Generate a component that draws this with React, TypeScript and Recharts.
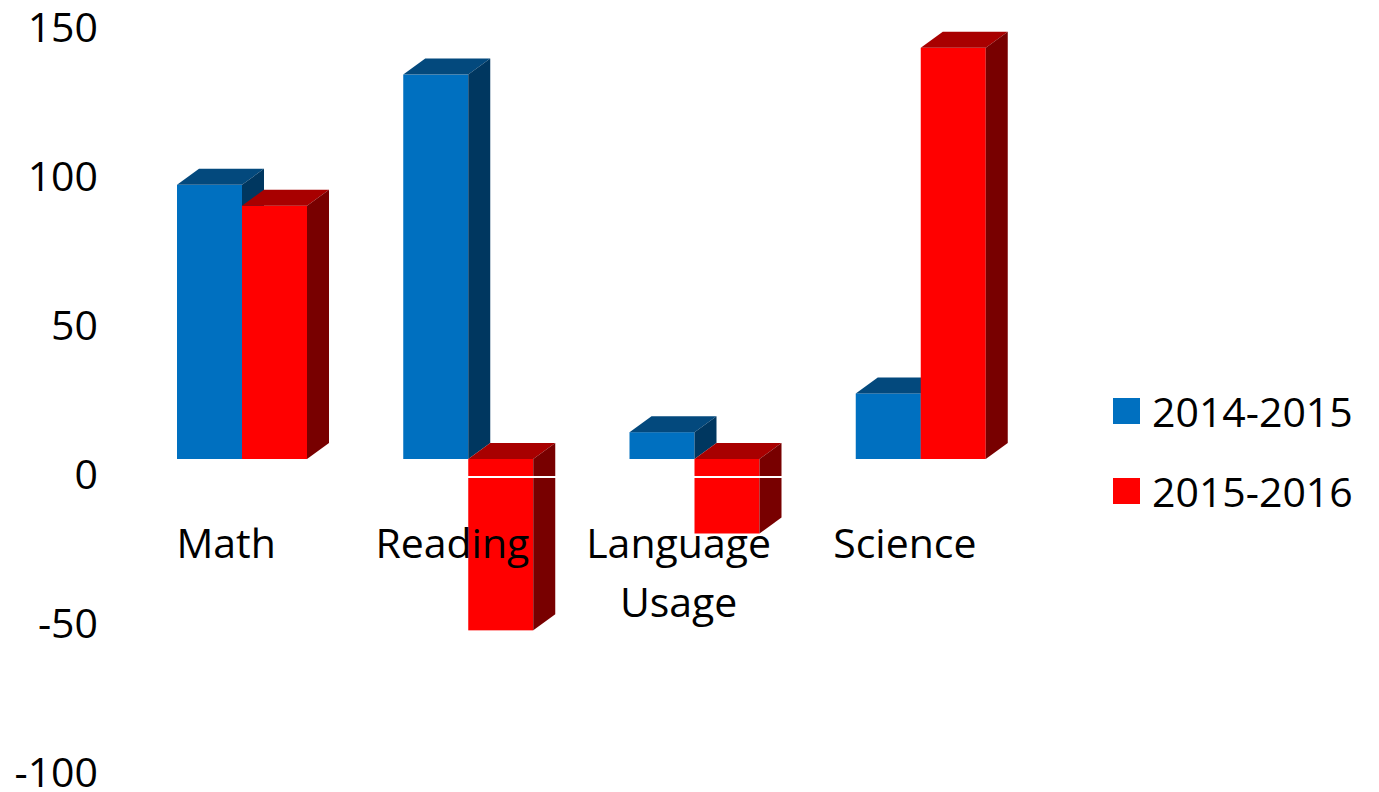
import React from "react";
import { BarChart, Bar, XAxis, YAxis, ReferenceLine, Legend } from "recharts";

const subjects = ["Math", "Reading", "Language Usage", "Science"];
const scores2014 = [92, 129, 9, 22];
const scores2015 = [85, -57.5, -25, 138];
const seriesNames = ["2014-2015", "2015-2016"];
const yTicks = [-100, -50, 0, 50, 100, 150];

const data = subjects.map((subject, i) => ({
  subject,
  y2014: scores2014[i],
  y2015: scores2015[i],
}));

const FONT = "'Open Sans', 'Liberation Sans', sans-serif";
const BLUE = { front: "#0070C0", top: "#03497D", side: "#003760" };
const RED = { front: "#FF0000", top: "#A80000", side: "#780000" };

// layout
const W = 1379;
const H = 792;
const PLOT_TOP = 27;
const PLOT_BOTTOM = 772;
const X_AXIS_H = 20;
const LEGEND_W = 266;
const ZERO_PX = PLOT_TOP + ((PLOT_BOTTOM - PLOT_TOP) * 150) / 250;
const DEPTH_X = 22;
const DEPTH_Y = 16;
// the 3d front face sits a bit above the axis plane
const LIFT = 15;
const MAX_LINE_CHARS = 10;

const Box3D = (props: any) => {
  const { x, y, width, height, colors } = props;
  if (width == null || height == null) return null;
  const top = Math.min(y, y + height) - LIFT;
  const h = Math.abs(height);
  const r = x + width;
  return (
    <g>
      <rect x={x} y={top} width={width} height={h} fill={colors.front} />
      <polygon
        points={`${x},${top} ${r},${top} ${r + DEPTH_X},${top - DEPTH_Y} ${x + DEPTH_X},${top - DEPTH_Y}`}
        fill={colors.top}
      />
      <polygon
        points={`${r},${top} ${r + DEPTH_X},${top - DEPTH_Y} ${r + DEPTH_X},${top + h - DEPTH_Y} ${r},${top + h}`}
        fill={colors.side}
      />
    </g>
  );
};

function wrapWords(label: string) {
  const lines: string[] = [];
  for (const w of label.split(" ")) {
    const last = lines[lines.length - 1];
    if (last && (last + " " + w).length <= MAX_LINE_CHARS) lines[lines.length - 1] = last + " " + w;
    else lines.push(w);
  }
  return lines;
}

const CategoryTick = ({ x, payload }: any) => {
  const lines = wrapWords(String(payload.value));
  return (
    <text
      x={x - 16}
      y={ZERO_PX + 84}
      textAnchor="middle"
      fontSize={41}
      fontFamily={FONT}
      fill="#000"
    >
      {lines.map((line, i) => (
        <tspan key={i} x={x - 16} dy={i === 0 ? 0 : 59}>
          {line}
        </tspan>
      ))}
    </text>
  );
};

const LegendBox = ({ payload }: any) => (
  <div style={{ fontFamily: FONT, fontSize: 41, color: "#000" }}>
    {(payload || []).map((p: any) => (
      <div key={p.value} style={{ display: "flex", alignItems: "center", height: 80 }}>
        <span style={{ width: 27, height: 26, background: p.color, marginRight: 12 }} />
        <span>{p.value}</span>
      </div>
    ))}
  </div>
);

export default function App() {
  return (
    <div style={{ position: "absolute", left: 0, top: 0, width: W, height: H, background: "#fff" }}>
      <BarChart
        width={W}
        height={H}
        data={data}
        margin={{ top: PLOT_TOP, right: 345 - LEGEND_W, bottom: H - PLOT_BOTTOM - X_AXIS_H, left: 0 }}
        barSize={65}
        barGap={0}
      >
        <XAxis
          dataKey="subject"
          height={X_AXIS_H}
          axisLine={false}
          tickLine={false}
          interval={0}
          tick={<CategoryTick />}
        />
        <YAxis
          domain={[-100, 150]}
          ticks={yTicks}
          interval={0}
          width={129}
          axisLine={false}
          tickLine={false}
          tickSize={0}
          tickMargin={31}
          tick={{ fontSize: 41, fontFamily: FONT, fill: "#000" }}
        />
        <Bar
          dataKey="y2014"
          name={seriesNames[0]}
          fill={BLUE.front}
          isAnimationActive={false}
          shape={(p: any) => <Box3D {...p} colors={BLUE} />}
        />
        <Bar
          dataKey="y2015"
          name={seriesNames[1]}
          fill={RED.front}
          isAnimationActive={false}
          shape={(p: any) => <Box3D {...p} colors={RED} />}
        />
        <ReferenceLine y={-1} stroke="#fff" strokeWidth={2} />
        <Legend
          layout="horizontal"
          verticalAlign="middle"
          align="right"
          content={<LegendBox />}
          wrapperStyle={{ position: "absolute", left: 1113, top: 371, width: LEGEND_W, bottom: "auto" }}
        />
      </BarChart>
    </div>
  );
}
